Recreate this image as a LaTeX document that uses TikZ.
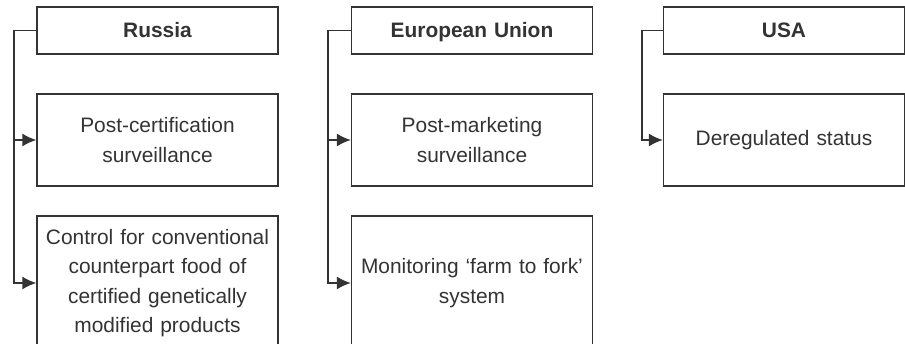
\documentclass[tikz,border=0pt]{standalone}
\usepackage{fontspec}
\setmainfont{Liberation Sans}
\usetikzlibrary{arrows.meta}
\definecolor{ink}{HTML}{333333}
\tikzset{
  box/.style={draw=ink, line width=1.4pt, text=ink, rectangle, inner sep=2pt,
    minimum width=241pt, text width=237pt, align=center,
    font=\fontsize{20.9}{29.5}\selectfont},
  head/.style={box, minimum height=47pt, text height=15pt, text depth=0pt,
    font=\fontsize{20.9}{29.5}\selectfont\bfseries},
  mid/.style={box, minimum height=92pt},
  low/.style={box, minimum height=134pt},
  link/.style={draw=ink, line width=1.4pt, -{Latex[length=14pt,width=13pt]}}
}
\begin{document}
\begin{tikzpicture}[x=1pt, y=-1pt]
\useasboundingbox (0,0) rectangle (905,344);
\begin{scope}
\clip (0,0) rectangle (905,344);
% Russia
\node[head] (ru) at (157.5,30.5) {Russia};
\node[mid]  (ru2) at (157.5,140) {Post-certification\\surveillance};
\node[low]  (ru3) at (157.5,283) {Control for conventional\\counterpart food of\\certified genetically\\modified products};
\coordinate (rujoint) at (14,30.5);
\draw[link] (ru.west) -- (rujoint) |- (ru2.west);
\draw[link] (rujoint) |- (ru3.west);
% European Union
\node[head] (eu) at (472,30.5) {European Union};
\node[mid]  (eu2) at (472,140) {Post-marketing\\surveillance};
\node[low]  (eu3) at (472,283) {Monitoring ‘farm to fork’\\system};
\coordinate (eujoint) at (328,30.5);
\draw[link] (eu.west) -- (eujoint) |- (eu2.west);
\draw[link] (eujoint) |- (eu3.west);
% USA
\node[head] (us) at (784,30.5) {USA};
\node[mid]  (us2) at (784,140) {Deregulated status};
\coordinate (usjoint) at (642,30.5);
\draw[link] (us.west) -- (usjoint) |- (us2.west);
\end{scope}
\end{tikzpicture}
\end{document}
